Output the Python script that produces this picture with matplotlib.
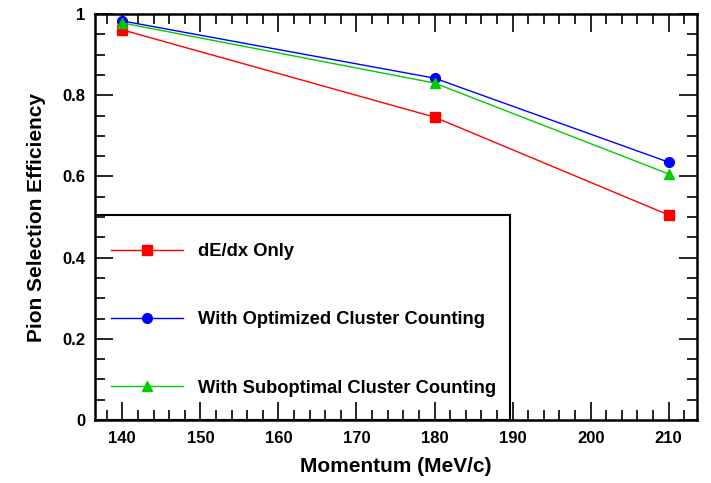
import matplotlib
matplotlib.use("Agg")
import matplotlib.pyplot as plt
from matplotlib.patches import Rectangle
from matplotlib.ticker import MultipleLocator

plt.rcParams['font.family'] = ['Liberation Sans', 'DejaVu Sans']
plt.rcParams['font.weight'] = 'bold'

# data
momentum = [140, 180, 210]
eff_dedx = [0.961, 0.746, 0.505]
eff_opt = [0.983, 0.842, 0.635]
eff_subopt = [0.978, 0.830, 0.606]
labels = ["dE/dx Only", "With Optimized Cluster Counting", "With Suboptimal Cluster Counting"]

fig = plt.figure(figsize=(7.11, 4.83), dpi=100)
ax = fig.add_axes([0.1336, 0.1304, 0.8464, 0.8406])

h1, = ax.plot(momentum, eff_dedx, '-s', color='#ff0000', lw=1, ms=7, label=labels[0], zorder=4)
h2, = ax.plot(momentum, eff_opt, '-o', color='#0000ff', lw=1, ms=7, label=labels[1], zorder=4)
h3, = ax.plot(momentum, eff_subopt, '-^', color='#00cc00', lw=1, ms=7, label=labels[2], zorder=4)

ax.set_xlim(136.5, 213.6)
ax.set_ylim(0, 1)

ax.xaxis.set_major_locator(MultipleLocator(10))
ax.xaxis.set_minor_locator(MultipleLocator(2))
ax.yaxis.set_major_locator(MultipleLocator(0.2))
ax.yaxis.set_minor_locator(MultipleLocator(0.05))
ax.yaxis.set_major_formatter(matplotlib.ticker.FuncFormatter(lambda v, p: f"{v:g}"))

ax.tick_params(which='both', direction='in', top=True, right=True, width=1.2, labelsize=12)
ax.tick_params(axis='y', which='major', length=13, pad=7)
ax.tick_params(axis='y', which='minor', length=7)
ax.tick_params(axis='x', which='major', length=13)
ax.tick_params(axis='x', which='minor', length=7)
ax.tick_params(axis='x', pad=8)
for s in ax.spines.values():
    s.set_linewidth(1.8)

ax.set_xlabel("Momentum (MeV/c)", fontsize=15, fontweight='bold', labelpad=8)
ax.set_ylabel("Pion Selection Efficiency", fontsize=15, fontweight='bold', labelpad=12)

# legend box (ROOT style, sitting on the lower-left corner, ticks stay on top)
ax.add_patch(Rectangle((0, 0), 0.689, 0.505, transform=ax.transAxes,
                       facecolor='white', edgecolor='black', lw=1.5, zorder=1))
leg = ax.legend(handles=[h1, h2, h3], loc='upper left', bbox_to_anchor=(0.0266, 0.436),
                frameon=False, fontsize=13.2, handlelength=3.93, handletextpad=0.82,
                labelspacing=2.8, borderpad=0, borderaxespad=0)
leg.set_zorder(5)

fig.savefig("out.png", dpi=100)
